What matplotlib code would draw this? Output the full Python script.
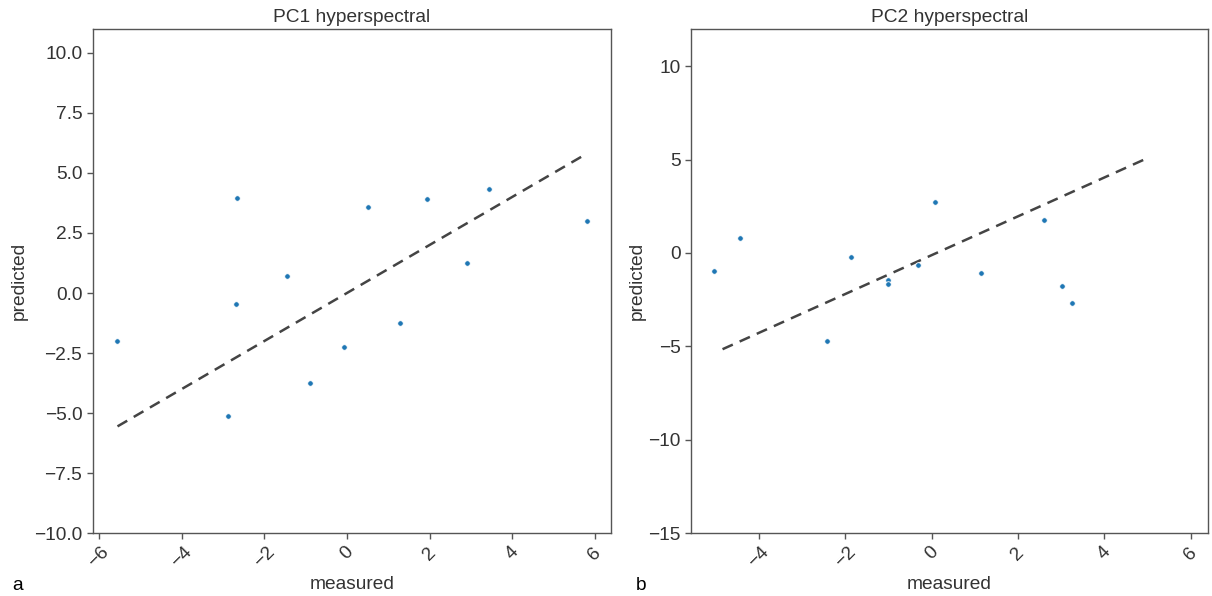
import matplotlib
matplotlib.use("Agg")
import matplotlib.pyplot as plt

plt.rcParams['font.family'] = ['Liberation Sans', 'DejaVu Sans']

# PC1 panel data
pc1_measured = [-5.57, -2.66, -2.69, -2.88, -1.44, -0.90, -0.07, 0.51, 1.29, 1.93, 2.91, 3.43, 5.81]
pc1_predicted = [-1.98, 3.96, -0.47, -5.10, 0.69, -3.75, -2.24, 3.57, -1.24, 3.92, 1.26, 4.34, 3.00]
pc1_line = [-5.55, 5.72]

# PC2 panel data
pc2_measured = [-5.03, -4.43, -2.42, -1.86, -1.02, -1.02, -0.31, 0.07, 1.15, 2.60, 3.01, 3.25]
pc2_predicted = [-0.95, 0.79, -4.72, -0.20, -1.44, -1.66, -0.66, 2.73, -1.05, 1.75, -1.78, -2.69]
pc2_line_x = [-4.84, 4.98]
pc2_line_y = [-5.15, 5.06]

titles = ["PC1 hyperspectral", "PC2 hyperspectral"]
panel_labels = ["a", "b"]
pc1_xticks = [-6, -4, -2, 0, 2, 4, 6]
pc1_yticks = [-10.0, -7.5, -5.0, -2.5, 0.0, 2.5, 5.0, 7.5, 10.0]
pc2_xticks = [-4, -2, 0, 2, 4, 6]
pc2_yticks = [-15, -10, -5, 0, 5, 10]

W, H = 1212, 596
fig = plt.figure(figsize=(W / 100, H / 100), dpi=100)
ax1 = fig.add_axes([92.7 / W, 1 - 533.3 / H, 518 / W, 504.6 / H])
ax2 = fig.add_axes([691 / W, 1 - 533.3 / H, 516.7 / W, 504.6 / H])

text_color = '#333333'
spine_color = '#555555'
fs = 13.8

def style(ax, title):
    for s in ['top', 'right', 'left', 'bottom']:
        ax.spines[s].set_color(spine_color)
        ax.spines[s].set_linewidth(1.0)
    ax.tick_params(axis='both', colors=spine_color, labelcolor=text_color,
                   labelsize=fs, length=4, width=1)
    ax.set_title(title, fontsize=fs, color=text_color, pad=5)
    ax.set_xlabel("measured", fontsize=fs, color=text_color, labelpad=4)
    ax.set_ylabel("predicted", fontsize=fs, color=text_color)
    for lbl in ax.get_xticklabels():
        lbl.set_rotation(45)

# Panel a
ax1.plot(pc1_line, pc1_line, linestyle='--', color='#444444', linewidth=1.8, dashes=(4.5, 3))
ax1.scatter(pc1_measured, pc1_predicted, s=16, color='#1f77b4', edgecolors='white', linewidths=0.6, zorder=3)
ax1.set_xlim(-6.15, 6.38)
ax1.set_ylim(-10, 11)
ax1.set_xticks(pc1_xticks)
ax1.set_yticks(pc1_yticks)
ax1.set_yticklabels([f"{v:.1f}".replace('-', '\u2212') for v in pc1_yticks])
style(ax1, titles[0])
ax1.yaxis.set_label_coords(-0.125, 0.5)
ax1.xaxis.set_label_coords(0.5, -0.085)

# Panel b
ax2.plot(pc2_line_x, pc2_line_y, linestyle='--', color='#444444', linewidth=1.8, dashes=(4.5, 3))
ax2.scatter(pc2_measured, pc2_predicted, s=16, color='#1f77b4', edgecolors='white', linewidths=0.6, zorder=3)
ax2.set_xlim(-5.57, 6.39)
ax2.set_ylim(-15, 12)
ax2.set_xticks(pc2_xticks)
ax2.set_yticks(pc2_yticks)
style(ax2, titles[1])
ax2.yaxis.set_label_coords(-0.088, 0.5)
ax2.xaxis.set_label_coords(0.5, -0.085)

fig.text(12 / W, 1 - 586 / H, panel_labels[0], fontsize=fs, color='black', va='center', ha='left')
fig.text(636 / W, 1 - 586 / H, panel_labels[1], fontsize=fs, color='black', va='center', ha='left')

fig.savefig("out.png", dpi=100)
